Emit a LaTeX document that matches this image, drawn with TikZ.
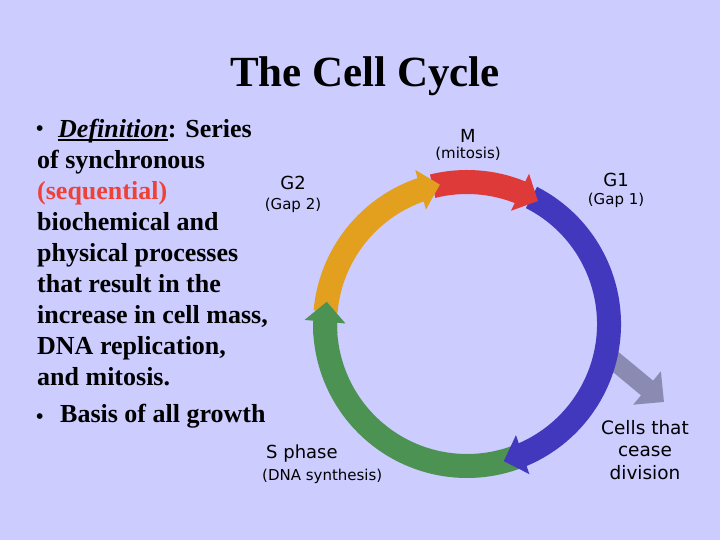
\documentclass[tikz,border=0pt]{standalone}
\usepackage{fontspec}
\setmainfont{Liberation Serif}
\newfontfamily\labelfont{DejaVu Sans}
\usetikzlibrary{arrows.meta,bending}

\definecolor{slidebg}{RGB}{204,204,255}
\definecolor{mcolor}{RGB}{222,58,58}
\definecolor{gonecolor}{RGB}{66,56,190}
\definecolor{scolor}{RGB}{76,146,82}
\definecolor{gtwocolor}{RGB}{226,160,30}
\definecolor{ceasecolor}{RGB}{138,138,178}
\definecolor{seqred}{RGB}{238,66,54}

\newcommand{\defword}[1]{\setbox0\hbox{#1}\rlap{\rule[-3.5pt]{\wd0}{1.8pt}}\box0}

\tikzset{
  phase/.style={line width=24pt, -{Triangle[width=40pt,length=20pt]}},
  phasebody/.style={line width=24pt},
  phasename/.style={font=\labelfont\fontsize{18}{21}\selectfont, inner sep=0pt, anchor=base},
  phasesub/.style={font=\labelfont\fontsize{15}{17}\selectfont, inner sep=0pt, anchor=base},
  slidetext/.style={font=\bfseries\fontsize{26}{31}\selectfont, inner sep=0pt, align=left},
  slidebullet/.style={font=\bfseries\fontsize{21}{21}\selectfont, inner sep=0pt, anchor=base west}
}

\begin{document}
\begin{tikzpicture}[x=1pt,y=1pt]
	\fill[slidebg] (0,0) rectangle (720,540);
	\useasboundingbox (0,0) rectangle (720,540);
	% title and text
	\node[font=\bfseries\fontsize{43}{50}\selectfont, anchor=base] (title) at (365,453) {The Cell Cycle};
	\node[slidebullet] (bulletone) at (36,404) {•};
	\node[slidetext, anchor=north west] (definition) at (37,421) {\hspace*{21pt}\defword{\textit{Definition}}: Series\\
		of synchronous\\
		\textcolor{seqred}{(sequential)}\\
		biochemical and\\
		physical processes\\
		that result in the\\
		increase in cell mass,\\
		DNA replication,\\
		and mitosis.};
	\node[slidebullet] (bullettwo) at (36,116) {•};
	\node[slidetext, anchor=base west] (basis) at (60,117) {Basis of all growth};
	% the cycle
	\coordinate (c) at (467,216);
	\coordinate (ceasestart) at (606,186);
	\coordinate (ceasetip) at (664,138);
	\draw[phasebody, scolor] (c) ++(290:142) arc[start angle=290, end angle=180, radius=142];
	\draw[line width=19pt, ceasecolor, -{Triangle[width=42pt,length=22pt]}] (ceasestart) -- (ceasetip);
	\draw[phase, gonecolor] (c) ++(63:142) arc[start angle=63, end angle=-75, radius=142];
	\draw[phase, mcolor] (c) ++(104:142) arc[start angle=104, end angle=60, radius=142];
	\draw[phase, gtwocolor] (c) ++(175:142) arc[start angle=175, end angle=101, radius=142];
	\draw[phase, scolor] (c) ++(184:142) arc[start angle=184, end angle=171, radius=142];
	% phase labels
	\node[phasename] (m) at (468,397) {M};
	\node[phasesub] (mitosis) at (468,381) {(mitosis)};
	\node[phasename] (gone) at (616,353) {G1};
	\node[phasesub] (gapone) at (616,335) {(Gap 1)};
	\node[phasename] (gtwo) at (293,350) {G2};
	\node[phasesub] (gaptwo) at (293,330) {(Gap 2)};
	\node[phasename, anchor=base west] (sphase) at (266,81) {S phase};
	\node[phasesub, anchor=base west] (synthesis) at (262,59) {(DNA synthesis)};
	\node[phasename, font=\labelfont\fontsize{18.5}{22.5}\selectfont, align=center, anchor=north] (cease) at (645,120) {Cells that\\cease\\division};
\end{tikzpicture}
\end{document}
